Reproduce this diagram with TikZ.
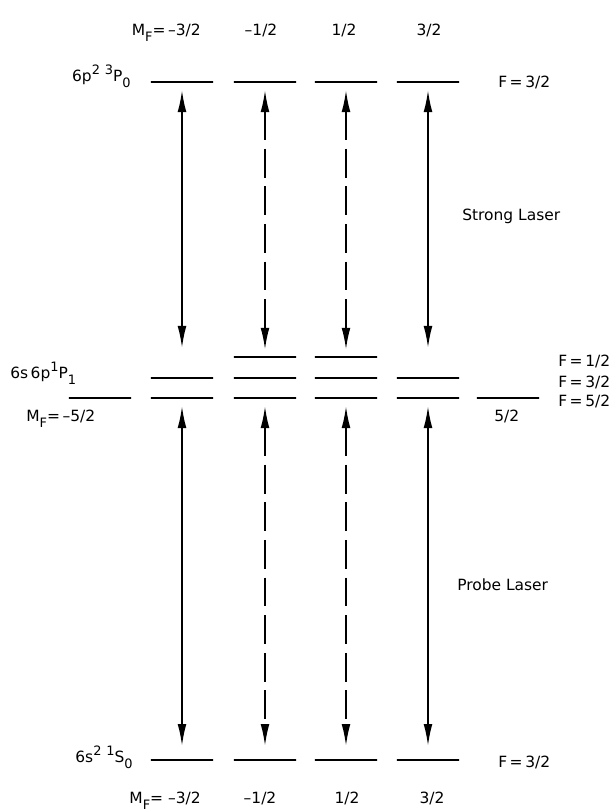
\documentclass[tikz,border=0pt]{standalone}
\usepackage{fontspec}
\setmainfont{DejaVu Sans}
\usepackage{tikz}
\usetikzlibrary{
  arrows.meta,
  positioning,
}
\newcommand{\supnum}[1]{\raisebox{0.8ex}{\fontsize{9.2}{10}\selectfont #1}}
\newcommand{\subnum}[1]{\raisebox{-0.8ex}{\fontsize{9.2}{10}\selectfont #1}}

\begin{document}
\begin{tikzpicture}[
  x=0.025cm, y=-0.025cm,
  >={Latex[length=0.55cm,width=0.22cm]},
  lvl/.style={draw, line width=2pt, minimum width=1.55cm, minimum height=0pt,
    inner sep=0pt, outer sep=0pt},
  txt/.style={font=\fontsize{11}{13}\selectfont, inner sep=0pt},
  sarr/.style={<->, line width=1.3pt},
  darr/.style={sarr, dash pattern=on 0.72cm off 0.22cm},
]
  \useasboundingbox (0,0) rectangle (616,812);

  % 6p2 3P0 levels
  \node[lvl] (t1) at (182,82) {};
  \node[lvl] (t2) at (265,82) {};
  \node[lvl] (t3) at (346,82) {};
  \node[lvl] (t4) at (428,82) {};

  % 6s6p 1P1 levels
  \node[lvl] (h2) at (265,357) {};
  \node[lvl] (h3) at (346,357) {};
  \node[lvl] (m1) at (182,378) {};
  \node[lvl] (m2) at (265,378) {};
  \node[lvl] (m3) at (346,378) {};
  \node[lvl] (m4) at (428,378) {};
  \node[lvl] (f0) at (100,398) {};
  \node[lvl] (f1) at (182,398) {};
  \node[lvl] (f2) at (265,398) {};
  \node[lvl] (f3) at (346,398) {};
  \node[lvl] (f4) at (428,398) {};
  \node[lvl] (f5) at (508,398) {};

  % 6s2 1S0 levels
  \node[lvl] (g1) at (182,760) {};
  \node[lvl] (g2) at (265,760) {};
  \node[lvl] (g3) at (346,760) {};
  \node[lvl] (g4) at (428,760) {};

  % Strong laser
  \draw[sarr, shorten <=0.2cm, shorten >=0.75cm] (t1) -- (m1);
  \draw[darr, shorten <=0.2cm, shorten >=0.18cm] (t2) -- (h2);
  \draw[darr, shorten <=0.2cm, shorten >=0.18cm] (t3) -- (h3);
  \draw[sarr, shorten <=0.2cm, shorten >=0.75cm] (t4) -- (m4);

  % Probe laser
  \draw[sarr, shorten <=0.2cm, shorten >=0.35cm] (f1) -- (g1);
  \draw[darr, shorten <=0.2cm, shorten >=0.35cm] (f2) -- (g2);
  \draw[darr, shorten <=0.2cm, shorten >=0.35cm] (f3) -- (g3);
  \draw[sarr, shorten <=0.2cm, shorten >=0.35cm] (f4) -- (g4);

  % Term labels
  \node[txt, anchor=base east] (tp) at (131,81) {6p\supnum{2} \supnum{3}P\subnum{0}};
  \node[txt, anchor=base west] (mp) at (10,378) {6s\,6p\supnum{1}P\subnum{1}};
  \node[txt, anchor=base east] (gs) at (133,762) {6s\supnum{2} \supnum{1}S\subnum{0}};

  % F labels
  \node[txt, anchor=base west] (ft) at (498,87) {F\,=\,3/2};
  \node[txt, anchor=base west] (fh) at (558,366) {F\,=\,1/2};
  \node[txt, anchor=base west] (fm) at (558,387) {F\,=\,3/2};
  \node[txt, anchor=base west] (ff) at (558,406) {F\,=\,5/2};
  \node[txt, anchor=base west] (fg) at (498,767) {F\,=\,3/2};

  % MF labels
  \node[txt, anchor=base east] (at1) at (201,35) {M\subnum{F}=\,--3/2};
  \node[txt, anchor=base] (at2) at (261,35) {--1/2};
  \node[txt, anchor=base] (at3) at (344,35) {1/2};
  \node[txt, anchor=base] (at4) at (429,35) {3/2};
  \node[txt, anchor=base west] (am0) at (26,421) {M\subnum{F}=\,--5/2};
  \node[txt, anchor=base west] (am5) at (494,421) {5/2};
  \node[txt, anchor=base east] (ab1) at (201,803) {M\subnum{F}= --3/2};
  \node[txt, anchor=base] (ab2) at (260,803) {--1/2};
  \node[txt, anchor=base] (ab3) at (347,803) {1/2};
  \node[txt, anchor=base] (ab4) at (432,803) {3/2};

  % Lasers
  \node[txt, anchor=base west] (sl) at (462,220) {Strong Laser};
  \node[txt, anchor=base west] (pl) at (457,590) {Probe Laser};
\end{tikzpicture}
\end{document}
